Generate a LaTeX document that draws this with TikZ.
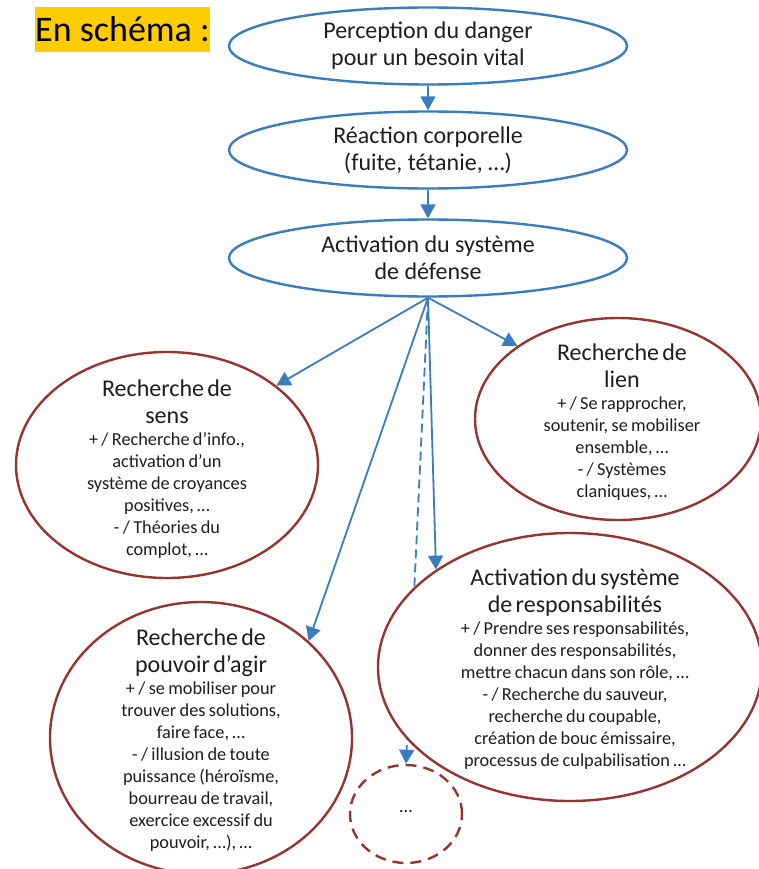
\documentclass[tikz,border=0pt]{standalone}
\usepackage{fontspec}
\setmainfont{Carlito}
\usetikzlibrary{shapes.geometric,arrows.meta}
\definecolor{eblue}{RGB}{58,125,190}
\definecolor{ered}{RGB}{150,52,50}
\definecolor{etext}{RGB}{30,30,30}
\definecolor{eyellow}{RGB}{255,204,0}
\newcommand{\bigf}{\fontsize{24}{27}\selectfont}
\newcommand{\smallf}{\fontsize{18.3}{22}\selectfont}
\begin{document}
\begin{tikzpicture}[x=1pt,y=-1pt,
  topell/.style={ellipse, draw=eblue, line width=2.4pt, fill=white,
    minimum width=398pt, minimum height=77pt, inner sep=0pt,
    font=\fontsize{24}{27}\selectfont, text=etext, align=center},
  redell/.style={ellipse, draw=ered, line width=2.4pt, fill=white, inner sep=0pt},
  etxt/.style={text width=340pt, align=center, text=etext, anchor=base, inner sep=0pt},
  conn/.style={draw=eblue, line width=1.8pt, -{Triangle[length=14pt,width=15pt]}, color=eblue},
  dconn/.style={conn, dash pattern=on 9pt off 5pt}
]
\useasboundingbox (0,0) rectangle (758,869);
\fill[white] (0,0) rectangle (758,869);

% title
\node[fill=eyellow, minimum width=175pt, minimum height=45pt, inner sep=0pt,
  font=\fontsize{36}{38}\selectfont, text=black] (title) at (122.5,29.5) {En schéma :};

% top ellipses
\node[topell] (e1) at (428,46) {Perception du danger\\pour un besoin vital};
\node[topell] (e2) at (428,150) {Réaction corporelle\\(fuite, tétanie, …)};
\node[topell] (e3) at (428,258) {Activation du système\\de défense};

\draw[conn] (e1) -- (e2);
\draw[conn] (e2) -- (e3);

% small dashed circle
\node[redell, dash pattern=on 11pt off 7pt, minimum width=112pt, minimum height=98pt] (dots) at (406,814) {};
\node[text=etext, font=\smallf] (dotst) at (406,812) {…};

% dashed arrow (passes behind the responsibilities ellipse)
\draw[dconn] (e3.south) -- (dots.north);

% red ellipses
\node[redell, minimum width=302pt, minimum height=226pt] (sens) at (167,465) {};
\node[redell, minimum width=286pt, minimum height=202pt] (lien) at (618,419) {};
\node[redell, minimum width=384pt, minimum height=268pt] (resp) at (570,667) {};
\node[redell, minimum width=302pt, minimum height=272pt] (pouv) at (201,738) {};

\node[etxt] (senst) at (167,396) {\bigf Recherche de\\sens\par
  \smallf + / Recherche d’info.,\\activation d’un\\système de croyances\\positives, …\\- / Théories du\\complot, …\par};
\node[etxt] (lient) at (622,360) {\bigf Recherche de\\lien\par
  \smallf + / Se rapprocher,\\soutenir, se mobiliser\\ensemble, …\\- / Systèmes\\claniques, …\par};
\node[etxt] (respt) at (575,585) {\bigf Activation du système\\de responsabilités\par
  \smallf + / Prendre ses responsabilités,\\donner des responsabilités,\\mettre chacun dans son rôle, …\\- / Recherche du sauveur,\\recherche du coupable,\\création de bouc émissaire,\\processus de culpabilisation …\par};
\node[etxt] (pouvt) at (201,645) {\bigf Recherche de\\pouvoir d’agir\par
  \smallf + / se mobiliser pour\\trouver des solutions,\\faire face, …\\- / illusion de toute\\puissance (héroïsme,\\bourreau de travail,\\exercice excessif du\\pouvoir, …), …\par};

% arrows from the defence system
\draw[conn] (e3.south) -- (sens.36);
\draw[conn] (e3.south) -- (pouv.42);
\draw[conn] (e3.south) -- (resp.144);
\draw[conn] (e3.south) -- (lien.144);
\end{tikzpicture}
\end{document}
